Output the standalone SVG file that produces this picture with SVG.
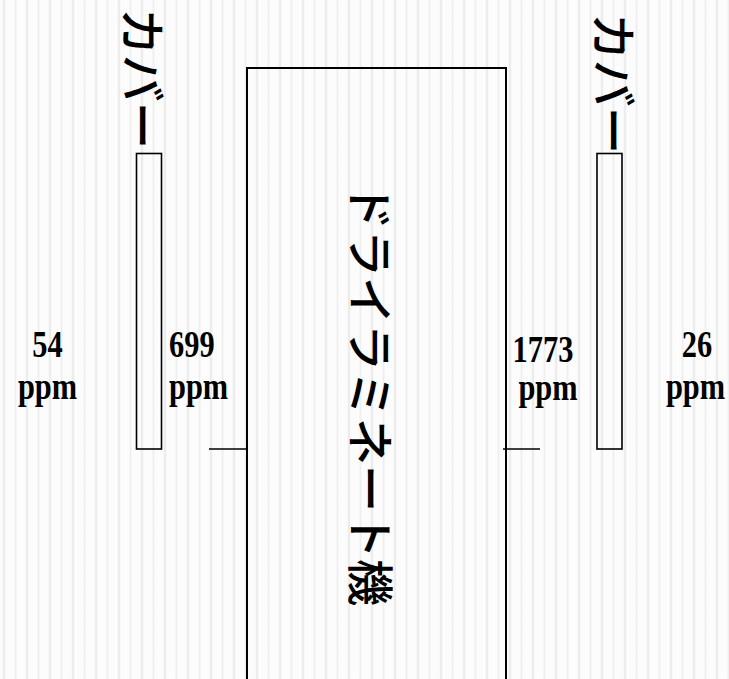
<svg xmlns="http://www.w3.org/2000/svg" width="729" height="679" viewBox="0 0 729 679">
  <defs>
    <linearGradient id="fade" x1="0" y1="0" x2="1" y2="0">
      <stop offset="0" stop-color="#ffffff"/>
      <stop offset="0.5" stop-color="#e6e6e6"/>
      <stop offset="1" stop-color="#ffffff"/>
    </linearGradient>
    <pattern id="stripes" x="0" y="0" width="23" height="10" patternUnits="userSpaceOnUse">
      <rect x="0" y="0" width="23" height="10" fill="#fcfcfc"/>
      <rect x="2" y="0" width="4" height="10" fill="url(#fade)"/>
      <rect x="13.5" y="0" width="4" height="10" fill="url(#fade)" opacity="0.6"/>
    </pattern>
  </defs>
  <style>
    .box { fill: none; stroke: #000; stroke-width: 2; }
    .cover { fill: none; stroke: #000; stroke-width: 1.6; }
    .conn { stroke: #000; stroke-width: 1.6; fill: none; }
    .jp { font-family: "Noto Sans CJK JP", "Noto Sans", sans-serif; font-size: 47px; font-weight: 500; fill: #000; dominant-baseline: central; }
    .num { font-family: "Liberation Serif", serif; font-size: 38px; font-weight: bold; fill: #000; }
  </style>
  <rect x="0" y="0" width="729" height="679" fill="url(#stripes)"/>

  <g id="dry-laminator">
    <rect class="box" x="247" y="68" width="259" height="640"/>
    <text class="jp" transform="translate(373,183) rotate(90)" x="0" y="0">ドライラミネート機</text>
  </g>

  <g id="cover-left">
    <rect class="cover" x="136.5" y="153.5" width="25" height="295.5"/>
    <text class="jp" transform="translate(145.5,8) rotate(90)" x="0" y="0">カバー</text>
  </g>

  <g id="cover-right">
    <rect class="cover" x="597" y="153.5" width="25" height="295.5"/>
    <text class="jp" transform="translate(616.5,13) rotate(90)" x="0" y="0">カバー</text>
  </g>

  <g id="label-54">
    <text class="num" text-anchor="middle" transform="translate(47.5,0) scale(0.8,1)" x="0" y="357">54</text>
    <text class="num" text-anchor="middle" transform="translate(47.5,0) scale(0.8,1)" x="0" y="399">ppm</text>
  </g>

  <g id="label-699">
    <text class="num" transform="translate(169,0) scale(0.8,1)" x="0" y="357">699</text>
    <text class="num" transform="translate(169,0) scale(0.8,1)" x="0" y="399">ppm</text>
  </g>

  <g id="label-1773">
    <text class="num" text-anchor="middle" transform="translate(543,0) scale(0.8,1)" x="0" y="362">1773</text>
    <text class="num" text-anchor="middle" transform="translate(548,0) scale(0.8,1)" x="0" y="400">ppm</text>
  </g>

  <g id="label-26">
    <text class="num" text-anchor="middle" transform="translate(697,0) scale(0.8,1)" x="0" y="357">26</text>
    <text class="num" text-anchor="middle" transform="translate(695.5,0) scale(0.8,1)" x="0" y="399">ppm</text>
  </g>

  <g id="connectors">
    <line class="conn" x1="209" y1="449" x2="247" y2="449"/>
    <line class="conn" x1="503" y1="449" x2="540" y2="449"/>
  </g>
</svg>
